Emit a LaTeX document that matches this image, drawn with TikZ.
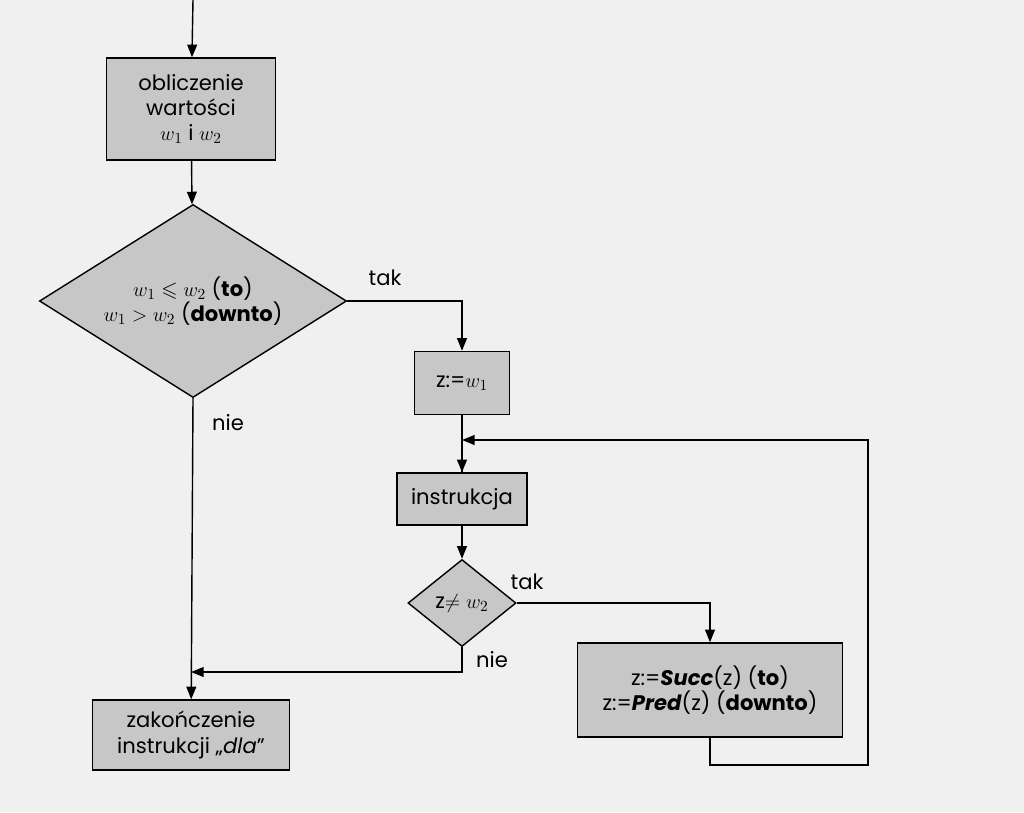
\documentclass[tikz,border=0pt]{standalone}
\usepackage{fontspec}
\usepackage{amssymb}
\setmainfont{Poppins}
\usetikzlibrary{shapes.geometric,patterns,arrows.meta}

\tikzset{
  blok/.style={draw,line width=1pt,fill=black!22,align=center,inner sep=0pt},
  decyzja/.style={draw,line width=1pt,fill=black!22,diamond,inner sep=0pt},
  linia/.style={line width=1pt},
  strz/.style={line width=1pt,-{Triangle[length=9pt,width=7pt]}},
  opis/.style={font=\fontsize{15}{18}\selectfont}
}

\begin{document}
\begin{tikzpicture}[x=0.025cm,y=-0.025cm,font=\fontsize{15}{18}\selectfont]
\fill[black!6] (0,0) rectangle (1024,812);
\useasboundingbox (0,0) rectangle (1024,812);
\coordinate (start) at (193,0);
\node[blok,minimum width=4.225cm,minimum height=2.55cm] (oblicz) at (191,109) {obliczenie\\wartości\\$w_1$ i $w_2$};
\node[decyzja,minimum width=7.675cm,minimum height=4.825cm] (war1) at (193,301) {};
\node[align=center] (war1txt) at (war1) {$w_1\leqslant w_2$ (\textbf{to})\\$w_1> w_2$ (\textbf{downto})};
\node[blok,minimum width=2.375cm,minimum height=1.575cm] (przyp) at (462,383) {z:=$w_1$};
\node[blok,minimum width=3.25cm,minimum height=1.3cm] (instr) at (462,499) {instrukcja};
\node[decyzja,minimum width=2.7cm,minimum height=2.175cm] (war2) at (462,603) {};
\node (war2txt) at (war2) {z$\neq w_2$};
\node[blok,minimum width=6.625cm,minimum height=2.35cm] (nast) at (710,690) {z:=\textbf{\textit{Succ}}(z) (\textbf{to})\\z:=\textbf{\textit{Pred}}(z) (\textbf{downto})};
\node[blok,minimum width=4.925cm,minimum height=1.75cm] (koniec) at (191,735) {zakończenie\\instrukcji „\textit{dla}”};

\coordinate (petla) at (462,440);
\coordinate (zbieg) at (191,672);

\draw[strz] (start) -- (oblicz);
\draw[strz] (oblicz) -- (war1);
\draw[strz] (war1.east) -| (przyp.north);
\draw[linia] (przyp) -- (instr);
\draw[strz] (petla) -- (instr);
\draw[strz] (war2.east) -| (nast.north);
\draw[strz] (instr) -- (war2);
\draw[strz] (nast.south) |- (868,765) |- (petla);
\draw[strz] (war2.south) |- (zbieg);
\draw[strz] (war1.south) -- (koniec);

\node[opis] (tak1) at (385,278) {tak};
\node[opis] (nie1) at (228,423) {nie};
\node[opis] (tak2) at (527,582) {tak};
\node[opis] (nie2) at (492,660) {nie};
\end{tikzpicture}
\end{document}
